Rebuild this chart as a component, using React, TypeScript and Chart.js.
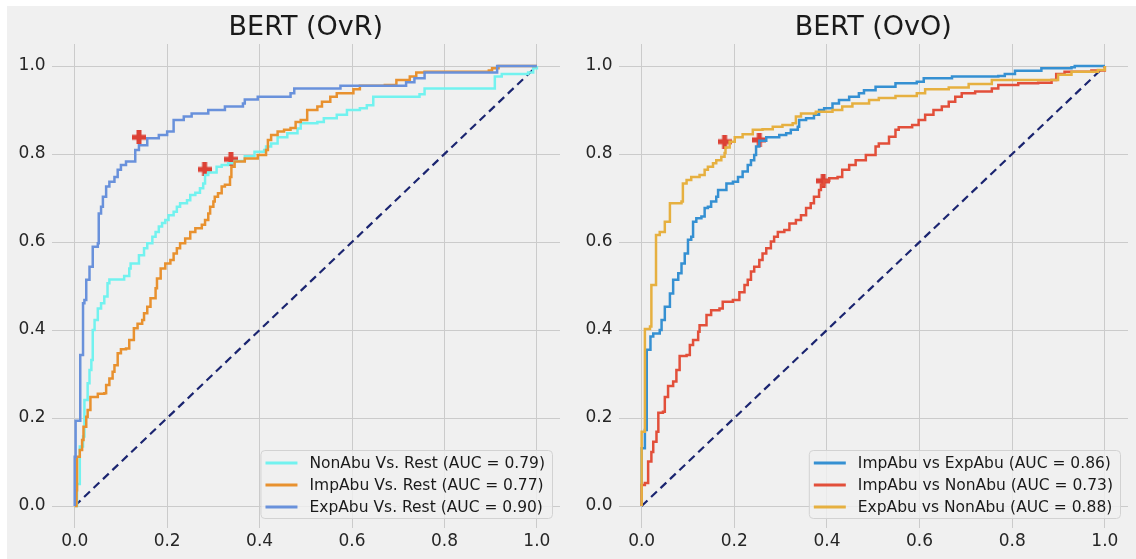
import React, { useEffect, useRef } from "react";
import { Chart, registerables } from "chart.js";

Chart.register(...registerables);

// ---------- data ----------
const tickValues = [0, 0.2, 0.4, 0.6, 0.8, 1.0];

const ovrTitle = "BERT (OvR)";
const ovoTitle = "BERT (OvO)";

const ovrLabels = [
  "NonAbu Vs. Rest (AUC = 0.79)",
  "ImpAbu Vs. Rest (AUC = 0.77)",
  "ExpAbu Vs. Rest (AUC = 0.90)",
];
const ovoLabels = [
  "ImpAbu vs ExpAbu (AUC = 0.86)",
  "ImpAbu vs NonAbu (AUC = 0.73)",
  "ExpAbu vs NonAbu (AUC = 0.88)",
];

const ovrColors = ["#72f2ef", "#e8912f", "#6991db"];
const ovoColors = ["#3590d2", "#e24f3a", "#e6b040"];

// ROC points [fpr, tpr]
const ovrNonAbu: [number, number][] = [
  [0, 0], [0.005, 0.05], [0.011, 0.135], [0.018, 0.158], [0.021, 0.241], [0.028, 0.279],
  [0.032, 0.309], [0.036, 0.332], [0.039, 0.4], [0.043, 0.423], [0.05, 0.449], [0.057, 0.461],
  [0.064, 0.476], [0.071, 0.506], [0.075, 0.515], [0.1, 0.515], [0.107, 0.523], [0.118, 0.54],
  [0.121, 0.551], [0.139, 0.57], [0.15, 0.586], [0.157, 0.597], [0.168, 0.612], [0.175, 0.623],
  [0.182, 0.635], [0.189, 0.643], [0.196, 0.65], [0.203, 0.661], [0.214, 0.669], [0.221, 0.68],
  [0.228, 0.688], [0.243, 0.695], [0.25, 0.707], [0.261, 0.712], [0.271, 0.722], [0.278, 0.733],
  [0.282, 0.752], [0.289, 0.758], [0.307, 0.771], [0.318, 0.775], [0.332, 0.779], [0.346, 0.784],
  [0.368, 0.795], [0.389, 0.805], [0.41, 0.809], [0.414, 0.817], [0.425, 0.824], [0.439, 0.838],
  [0.46, 0.847], [0.482, 0.858], [0.489, 0.87], [0.525, 0.873], [0.539, 0.881], [0.567, 0.889],
  [0.589, 0.9], [0.617, 0.904], [0.632, 0.911], [0.646, 0.93], [0.746, 0.936], [0.757, 0.949],
  [0.903, 0.949], [0.909, 0.976], [0.924, 0.982], [0.981, 0.985], [0.992, 0.995], [1.0, 1.0],
];

const ovrImpAbu: [number, number][] = [
  [0, 0], [0.004, 0.036], [0.005, 0.112], [0.011, 0.127], [0.016, 0.15], [0.019, 0.18],
  [0.025, 0.203], [0.028, 0.218], [0.034, 0.248], [0.05, 0.255], [0.064, 0.256], [0.068, 0.275],
  [0.075, 0.29], [0.082, 0.305], [0.086, 0.32], [0.093, 0.347], [0.1, 0.356], [0.111, 0.358],
  [0.118, 0.377], [0.128, 0.404], [0.136, 0.414], [0.146, 0.423], [0.15, 0.438], [0.157, 0.453],
  [0.164, 0.472], [0.175, 0.495], [0.178, 0.517], [0.186, 0.54], [0.196, 0.551], [0.207, 0.559],
  [0.214, 0.574], [0.221, 0.586], [0.228, 0.597], [0.239, 0.608], [0.25, 0.623], [0.261, 0.631],
  [0.275, 0.639], [0.282, 0.65], [0.289, 0.665], [0.293, 0.68], [0.3, 0.692], [0.303, 0.703],
  [0.31, 0.711], [0.318, 0.726], [0.325, 0.73], [0.336, 0.748], [0.339, 0.771], [0.346, 0.783],
  [0.368, 0.79], [0.393, 0.79], [0.396, 0.798], [0.414, 0.809], [0.418, 0.832], [0.425, 0.843],
  [0.439, 0.851], [0.453, 0.855], [0.467, 0.859], [0.478, 0.873], [0.489, 0.877], [0.503, 0.9],
  [0.525, 0.908], [0.535, 0.919], [0.553, 0.93], [0.567, 0.938], [0.603, 0.947], [0.617, 0.955],
  [0.671, 0.957], [0.696, 0.968], [0.725, 0.976], [0.739, 0.985], [0.757, 0.987], [0.896, 0.99],
  [0.903, 0.995], [0.917, 1.0], [1.0, 1.0],
];

const ovrExpAbu: [number, number][] = [
  [0, 0], [0, 0.112], [0.002, 0.194], [0.012, 0.343], [0.018, 0.461], [0.021, 0.468],
  [0.025, 0.514], [0.032, 0.544], [0.039, 0.589], [0.05, 0.597], [0.052, 0.665], [0.057, 0.68],
  [0.061, 0.703], [0.068, 0.726], [0.075, 0.737], [0.086, 0.748], [0.093, 0.764], [0.1, 0.775],
  [0.111, 0.783], [0.128, 0.783], [0.131, 0.809], [0.139, 0.82], [0.157, 0.836], [0.182, 0.843],
  [0.2, 0.851], [0.214, 0.877], [0.236, 0.885], [0.253, 0.892], [0.289, 0.9], [0.325, 0.908],
  [0.364, 0.915], [0.368, 0.924], [0.396, 0.93], [0.467, 0.938], [0.475, 0.949], [0.539, 0.949],
  [0.575, 0.955], [0.717, 0.963], [0.735, 0.972], [0.757, 0.985], [0.91, 0.985], [0.914, 1.0],
  [1.0, 1.0],
];

const ovoImpExp: [number, number][] = [
  [0, 0], [0, 0.131], [0.007, 0.131], [0.007, 0.173], [0.011, 0.207], [0.011, 0.355],
  [0.016, 0.355], [0.019, 0.385], [0.025, 0.392], [0.039, 0.4], [0.043, 0.423], [0.05, 0.453],
  [0.061, 0.483], [0.068, 0.514], [0.079, 0.529], [0.086, 0.551], [0.093, 0.574], [0.1, 0.605],
  [0.107, 0.612], [0.111, 0.646], [0.118, 0.654], [0.129, 0.658], [0.136, 0.677], [0.143, 0.68],
  [0.15, 0.692], [0.161, 0.703], [0.165, 0.718], [0.183, 0.733], [0.197, 0.737], [0.208, 0.748],
  [0.218, 0.76], [0.229, 0.775], [0.236, 0.786], [0.243, 0.798], [0.247, 0.817], [0.254, 0.83],
  [0.269, 0.838], [0.297, 0.843], [0.312, 0.847], [0.322, 0.855], [0.337, 0.862], [0.34, 0.877],
  [0.355, 0.881], [0.372, 0.889], [0.383, 0.9], [0.394, 0.904], [0.412, 0.915], [0.426, 0.923],
  [0.448, 0.93], [0.469, 0.938], [0.48, 0.945], [0.505, 0.953], [0.548, 0.961], [0.594, 0.964],
  [0.609, 0.972], [0.67, 0.976], [0.77, 0.977], [0.784, 0.982], [0.806, 0.989], [0.863, 0.995],
  [0.928, 0.997], [0.935, 1.0], [1.0, 1.0],
];

const ovoImpNon: [number, number][] = [
  [0, 0], [0, 0.048], [0.007, 0.052], [0.014, 0.059], [0.014, 0.101], [0.021, 0.123],
  [0.025, 0.146], [0.032, 0.169], [0.036, 0.212], [0.046, 0.214], [0.05, 0.248], [0.057, 0.273],
  [0.068, 0.283], [0.075, 0.309], [0.082, 0.341], [0.097, 0.343], [0.104, 0.366], [0.111, 0.377],
  [0.122, 0.396], [0.125, 0.411], [0.14, 0.434], [0.15, 0.445], [0.168, 0.449], [0.175, 0.464],
  [0.197, 0.468], [0.211, 0.486], [0.222, 0.502], [0.229, 0.514], [0.236, 0.533], [0.243, 0.544],
  [0.254, 0.559], [0.261, 0.574], [0.269, 0.586], [0.279, 0.601], [0.286, 0.612], [0.294, 0.623],
  [0.308, 0.627], [0.319, 0.642], [0.333, 0.65], [0.344, 0.661], [0.355, 0.677], [0.365, 0.688],
  [0.372, 0.703], [0.383, 0.718], [0.387, 0.73], [0.394, 0.739], [0.405, 0.745], [0.423, 0.748],
  [0.433, 0.764], [0.448, 0.775], [0.462, 0.786], [0.484, 0.798], [0.505, 0.817], [0.512, 0.824],
  [0.534, 0.839], [0.548, 0.855], [0.555, 0.861], [0.584, 0.866], [0.598, 0.877], [0.612, 0.889],
  [0.63, 0.9], [0.648, 0.908], [0.663, 0.919], [0.677, 0.93], [0.691, 0.938], [0.72, 0.942],
  [0.756, 0.949], [0.77, 0.957], [0.813, 0.961], [0.856, 0.962], [0.885, 0.968], [0.895, 0.982],
  [0.913, 0.987], [0.971, 0.99], [1.0, 1.0],
];

const ovoExpNon: [number, number][] = [
  [0, 0], [0, 0.169], [0.007, 0.173], [0.007, 0.402], [0.018, 0.408], [0.021, 0.502],
  [0.031, 0.506], [0.031, 0.616], [0.039, 0.623], [0.05, 0.646], [0.061, 0.688], [0.086, 0.692],
  [0.089, 0.733], [0.097, 0.741], [0.107, 0.748], [0.125, 0.752], [0.136, 0.764], [0.143, 0.771],
  [0.154, 0.779], [0.161, 0.786], [0.172, 0.794], [0.179, 0.802], [0.181, 0.815], [0.19, 0.828],
  [0.201, 0.838], [0.218, 0.845], [0.24, 0.855], [0.261, 0.856], [0.283, 0.862], [0.304, 0.866],
  [0.326, 0.87], [0.333, 0.885], [0.344, 0.892], [0.376, 0.896], [0.412, 0.9], [0.433, 0.908],
  [0.455, 0.915], [0.491, 0.923], [0.512, 0.927], [0.548, 0.932], [0.594, 0.938], [0.612, 0.947],
  [0.663, 0.951], [0.706, 0.959], [0.756, 0.968], [0.892, 0.968], [0.899, 0.98], [0.928, 0.987],
  [0.985, 0.991], [1.0, 1.0],
];

// optimal threshold markers [fpr, tpr]
const ovrMarkers: [number, number][] = [[0.281, 0.765], [0.338, 0.788], [0.139, 0.838]];
const ovoMarkers: [number, number][] = [[0.254, 0.832], [0.392, 0.739], [0.179, 0.828]];

const diagonal: [number, number][] = [[0, 0], [1, 1]];

// ---------- helpers ----------
const FONT = "'DejaVu Sans', 'Liberation Sans', sans-serif";
const toXY = (arr: [number, number][]) => arr.map(([x, y]) => ({ x, y }));

function plusImage(color: string, size = 14, arm = 5) {
  const c = document.createElement("canvas");
  c.width = size;
  c.height = size;
  const g = c.getContext("2d")!;
  g.fillStyle = color;
  const o = (size - arm) / 2;
  g.fillRect(o, 0, arm, size);
  g.fillRect(0, o, size, arm);
  return c;
}

function legendPlugin(labels: string[], colors: string[]) {
  return {
    id: "boxLegend",
    afterDatasetsDraw(chart: any) {
      const { ctx, chartArea } = chart;
      ctx.save();
      ctx.font = `15.5px ${FONT}`;
      const tw = Math.max(...labels.map((l) => ctx.measureText(l).width));
      const w = 49 + tw + 7;
      const h = 68;
      const x = chartArea.right - 8 - w;
      const y = chartArea.bottom - 10 - h;
      ctx.beginPath();
      (ctx as any).roundRect(x + 0.5, y + 0.5, w, h, 4);
      ctx.fillStyle = "rgba(240,240,240,0.8)";
      ctx.fill();
      ctx.strokeStyle = "#d2d2d2";
      ctx.lineWidth = 1;
      ctx.stroke();
      labels.forEach((lab, i) => {
        const cy = y + 13 + i * 22;
        ctx.beginPath();
        ctx.moveTo(x + 5, cy);
        ctx.lineTo(x + 37, cy);
        ctx.strokeStyle = colors[i];
        ctx.lineWidth = 3;
        ctx.stroke();
        ctx.fillStyle = "#1a1a1a";
        ctx.textBaseline = "middle";
        ctx.textAlign = "left";
        ctx.fillText(lab, x + 49, cy + 1);
      });
      ctx.restore();
    },
  };
}

function axis(fixedSize: number, isX: boolean) {
  return {
    type: "linear" as const,
    min: -0.05,
    max: 1.05,
    afterBuildTicks: (s: any) => {
      s.ticks = tickValues.map((v) => ({ value: v }));
    },
    afterFit: (s: any) => {
      if (isX) {
        s.height = fixedSize;
        s.paddingLeft = 0;
        s.paddingRight = 0;
      } else {
        s.width = fixedSize;
        s.paddingTop = 0;
        s.paddingBottom = 0;
      }
    },
    ticks: {
      callback: (v: any) => Number(v).toFixed(1),
      font: { family: FONT, size: 17 },
      color: "#262626",
      padding: isX ? 3 : 6,
    },
    grid: { color: "#cbcbcb", lineWidth: 1, drawTicks: false },
    border: { display: false },
  };
}

function makeConfig(
  title: string,
  series: [number, number][][],
  labels: string[],
  colors: string[],
  markers: [number, number][],
  yWidth: number,
  padRight: number
): any {
  const plus = plusImage("#dc4135");
  const datasets: any[] = [];
  datasets.push({
    data: toXY(diagonal),
    borderColor: "#1b2570",
    borderDash: [8, 5],
    borderWidth: 2.2,
    pointRadius: 0,
    order: 20,
  });
  series.forEach((s, i) => {
    datasets.push({
      data: toXY(s),
      borderColor: colors[i],
      borderWidth: 2.5,
      pointRadius: 0,
      stepped: "before",
      fill: false,
      order: 5 - i,
    });
  });
  datasets.push({
    data: toXY(markers),
    showLine: false,
    pointStyle: plus,
    pointRadius: 7,
    order: 10,
  });
  return {
    type: "line",
    data: { datasets },
    options: {
      animation: false,
      responsive: false,
      events: [],
      layout: { padding: { left: 0, right: padRight, top: 0, bottom: 0 } },
      scales: { x: axis(31, true), y: axis(yWidth, false) },
      plugins: {
        legend: { display: false },
        tooltip: { enabled: false },
        title: {
          display: true,
          text: title,
          fullSize: false,
          color: "#1a1a1a",
          font: { family: FONT, size: 27, weight: "normal", lineHeight: 1.1 },
          padding: { top: 13, bottom: 1.3 },
        },
      },
    },
    plugins: [legendPlugin(labels, colors)],
  };
}

export default function App() {
  const r1 = useRef<HTMLCanvasElement>(null);
  const r2 = useRef<HTMLCanvasElement>(null);

  useEffect(() => {
    const c1 = new Chart(
      r1.current!,
      makeConfig(ovrTitle, [ovrNonAbu, ovrImpAbu, ovrExpAbu], ovrLabels, ovrColors, ovrMarkers, 51.6, 2.6)
    );
    const c2 = new Chart(
      r2.current!,
      makeConfig(ovoTitle, [ovoImpExp, ovoImpNon, ovoExpNon], ovoLabels, ovoColors, ovoMarkers, 50.5, 6)
    );
    return () => {
      c1.destroy();
      c2.destroy();
    };
  }, []);

  return (
    <div style={{ position: "absolute", left: 0, top: 0, width: 1136, height: 559, background: "#ffffff", overflow: "hidden" }}>
      <div style={{ position: "absolute", left: 7, top: 6, width: 1129, height: 553, background: "#f0f0f0" }} />
      <canvas ref={r1} width={568} height={559} style={{ position: "absolute", left: 0, top: 0 }} />
      <canvas ref={r2} width={568} height={559} style={{ position: "absolute", left: 568, top: 0 }} />
    </div>
  );
}
